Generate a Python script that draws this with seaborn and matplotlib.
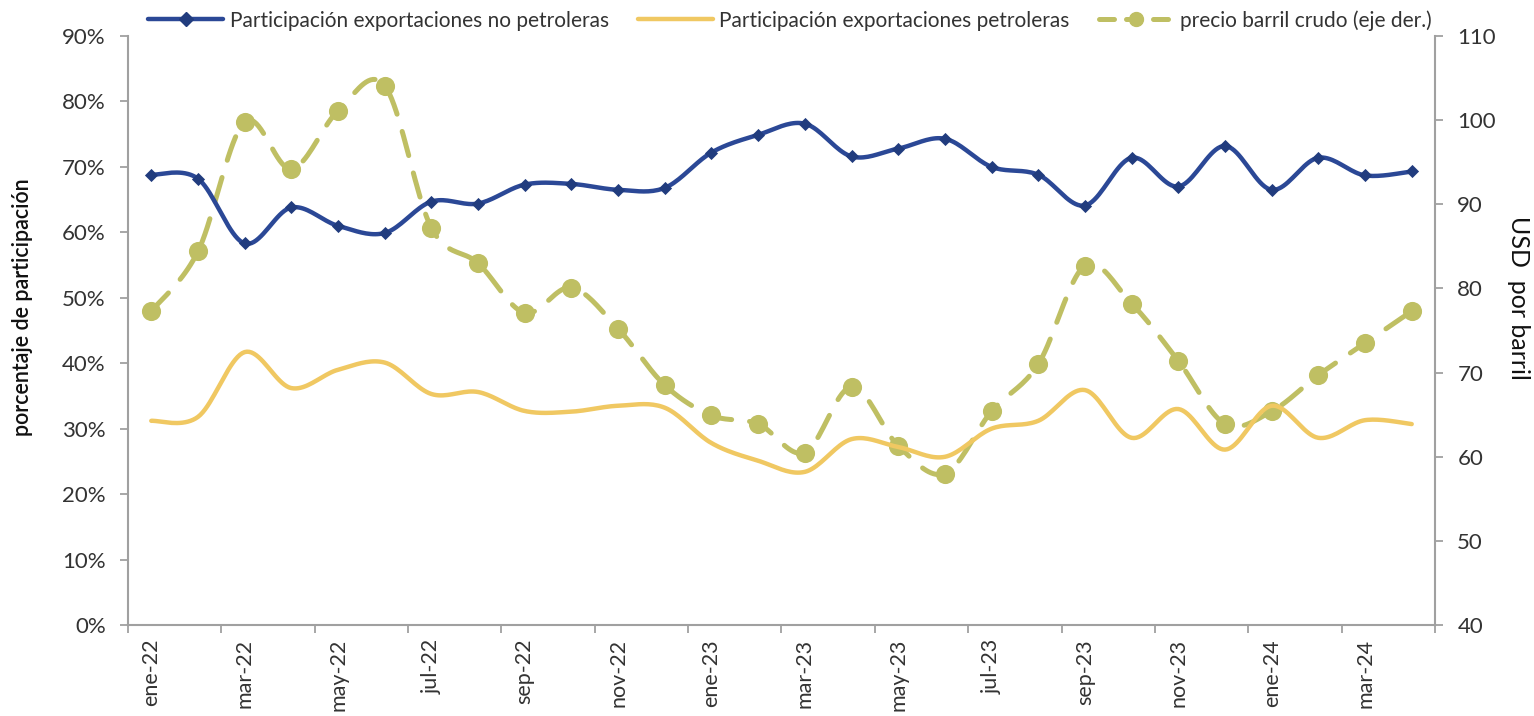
import numpy as np
import matplotlib
matplotlib.use("Agg")
import matplotlib.pyplot as plt
import seaborn as sns
from matplotlib.lines import Line2D
from matplotlib.ticker import FixedLocator, PercentFormatter

# --- data ---
meses = ["ene-22", "feb-22", "mar-22", "abr-22", "may-22", "jun-22", "jul-22", "ago-22",
         "sep-22", "oct-22", "nov-22", "dic-22", "ene-23", "feb-23", "mar-23", "abr-23",
         "may-23", "jun-23", "jul-23", "ago-23", "sep-23", "oct-23", "nov-23", "dic-23",
         "ene-24", "feb-24", "mar-24", "abr-24"]

no_petroleras = [68.8, 68.2, 58.3, 63.8, 61.0, 59.9, 64.7, 64.4, 67.3, 67.4, 66.5, 66.8,
                 72.2, 74.9, 76.6, 71.6, 72.8, 74.3, 70.0, 68.8, 64.1, 71.4, 67.0, 73.2,
                 66.5, 71.4, 68.7, 69.3]

petroleras = [31.2, 31.8, 41.7, 36.2, 39.0, 40.1, 35.3, 35.6, 32.7, 32.6, 33.5, 33.2,
              27.8, 25.1, 23.4, 28.4, 27.2, 25.7, 30.0, 31.2, 35.9, 28.6, 33.0, 26.8,
              33.5, 28.6, 31.3, 30.7]

precio_barril = [77.3, 84.4, 99.8, 94.2, 101.1, 104.1, 87.2, 83.0, 77.1, 80.1, 75.2, 68.5,
                 64.9, 63.9, 60.5, 68.3, 61.3, 58.0, 65.4, 71.0, 82.7, 78.2, 71.4, 63.9,
                 65.4, 69.7, 73.5, 77.3]

AZUL = "#2B4896"
AZUL_MK = "#213C7E"
AMARILLO = "#F0C862"
VERDE = "#BFBF63"
GRIS = "#A0A0A0"
TEXTO = "#333333"


def suavizar(y, pasos=20):
    """Catmull-Rom style curve through the points (like Excel smoothed lines)."""
    y = np.asarray(y, dtype=float)
    x = np.arange(len(y), dtype=float)
    px = np.concatenate([[x[0]], x, [x[-1]]])
    py = np.concatenate([[y[0]], y, [y[-1]]])
    xs, ys = [], []
    t = np.linspace(0, 1, pasos, endpoint=False)
    for i in range(1, len(px) - 2):
        for p, out in ((px, xs), (py, ys)):
            p0, p1, p2, p3 = p[i - 1], p[i], p[i + 1], p[i + 2]
            c1 = p1 + (p2 - p0) / 6
            c2 = p2 - (p3 - p1) / 6
            b = ((1 - t) ** 3 * p1 + 3 * (1 - t) ** 2 * t * c1
                 + 3 * (1 - t) * t ** 2 * c2 + t ** 3 * p2)
            out.extend(b)
    xs.append(x[-1])
    ys.append(y[-1])
    return np.array(xs), np.array(ys)


sns.set_theme(style="white")
plt.rcParams["font.family"] = ["Lato", "DejaVu Sans"]

fig = plt.figure(figsize=(15.34, 7.16), dpi=100)
ax = fig.add_axes([0.0834, 0.1271, 0.8521, 0.8226])
ax2 = ax.twinx()

idx = np.arange(len(meses))

# left axis: shares
sx, sy = suavizar(petroleras)
sns.lineplot(x=sx, y=sy, ax=ax, color=AMARILLO, linewidth=3.2, sort=False, estimator=None)
sx, sy = suavizar(no_petroleras)
sns.lineplot(x=sx, y=sy, ax=ax, color=AZUL, linewidth=3.2, sort=False, estimator=None)
sns.scatterplot(x=idx, y=no_petroleras, ax=ax, marker="D", s=45, color=AZUL_MK,
                edgecolor=AZUL_MK, linewidth=0, zorder=5)

# right axis: oil price
sx, sy = suavizar(precio_barril)
sns.lineplot(x=sx, y=sy, ax=ax2, color=VERDE, linewidth=3.6, sort=False, estimator=None,
             dashes=False)
ax2.lines[-1].set_dashes((5.0, 3.6))
ax2.lines[-1].set_dash_capstyle("round")
sns.scatterplot(x=idx, y=precio_barril, ax=ax2, marker="o", s=190, color=VERDE,
                edgecolor=VERDE, linewidth=0, zorder=5)

ax.set_zorder(ax2.get_zorder() + 1)
ax.patch.set_visible(False)

# axes limits / ticks
ax.set_xlim(-0.5, len(meses) - 0.5)
ax.set_ylim(0, 90)
ax2.set_ylim(40, 110)
ax.yaxis.set_major_locator(FixedLocator(np.arange(0, 91, 10)))
ax.yaxis.set_major_formatter(PercentFormatter(decimals=0))
ax2.yaxis.set_major_locator(FixedLocator(np.arange(40, 111, 10)))

ax.set_xticks(idx[::2])
ax.set_xticklabels(meses[::2], rotation=90, fontsize=15.5, color=TEXTO)
ax.xaxis.set_minor_locator(FixedLocator(np.arange(-0.5, len(meses), 2)))
ax.tick_params(axis="x", which="major", length=0, pad=10)
ax.tick_params(axis="x", which="minor", length=6, width=1.3, color=GRIS, bottom=True)
ax.tick_params(axis="y", length=6, width=1.3, color=GRIS, labelsize=16,
               labelcolor=TEXTO, left=True, pad=10)
ax2.tick_params(axis="y", length=6, width=1.3, color=GRIS, labelsize=16,
                labelcolor=TEXTO, right=True, pad=10)

for a in (ax, ax2):
    for s in a.spines.values():
        s.set_color(GRIS)
        s.set_linewidth(1.5)
    a.spines["top"].set_visible(False)
    a.grid(False)
ax.spines["right"].set_visible(False)
ax2.spines["left"].set_visible(False)
ax2.spines["bottom"].set_visible(False)

ax.set_ylabel("porcentaje de participación", fontsize=15.5, color="#111111",
              fontweight="semibold", va="center", ha="center")
ax.yaxis.set_label_coords(-0.081, 0.54)
ax2.set_ylabel("USD  por barril", fontsize=18, color="#111111", rotation=-90,
               va="center", ha="center")
ax2.yaxis.set_label_coords(1.064, 0.555)

# legend
handles = [
    Line2D([], [], color=AZUL, linewidth=3.2, marker="D", markersize=7,
           markerfacecolor=AZUL_MK, markeredgecolor=AZUL_MK),
    Line2D([], [], color=AMARILLO, linewidth=3.2),
    Line2D([], [], color=VERDE, linewidth=3.6, dashes=(3.0, 2.4), marker="o",
           markersize=10, dash_capstyle="round"),
]
labels = ["Participación exportaciones no petroleras",
          "Participación exportaciones petroleras",
          "precio barril crudo (eje der.)"]
fig.legend(handles, labels, loc="upper center", bbox_to_anchor=(0.515, 1.012), ncol=3,
           frameon=False, fontsize=15, handlelength=3.6, columnspacing=1.4,
           handletextpad=0.3, labelcolor=TEXTO)

fig.savefig("out.png", dpi=100)
